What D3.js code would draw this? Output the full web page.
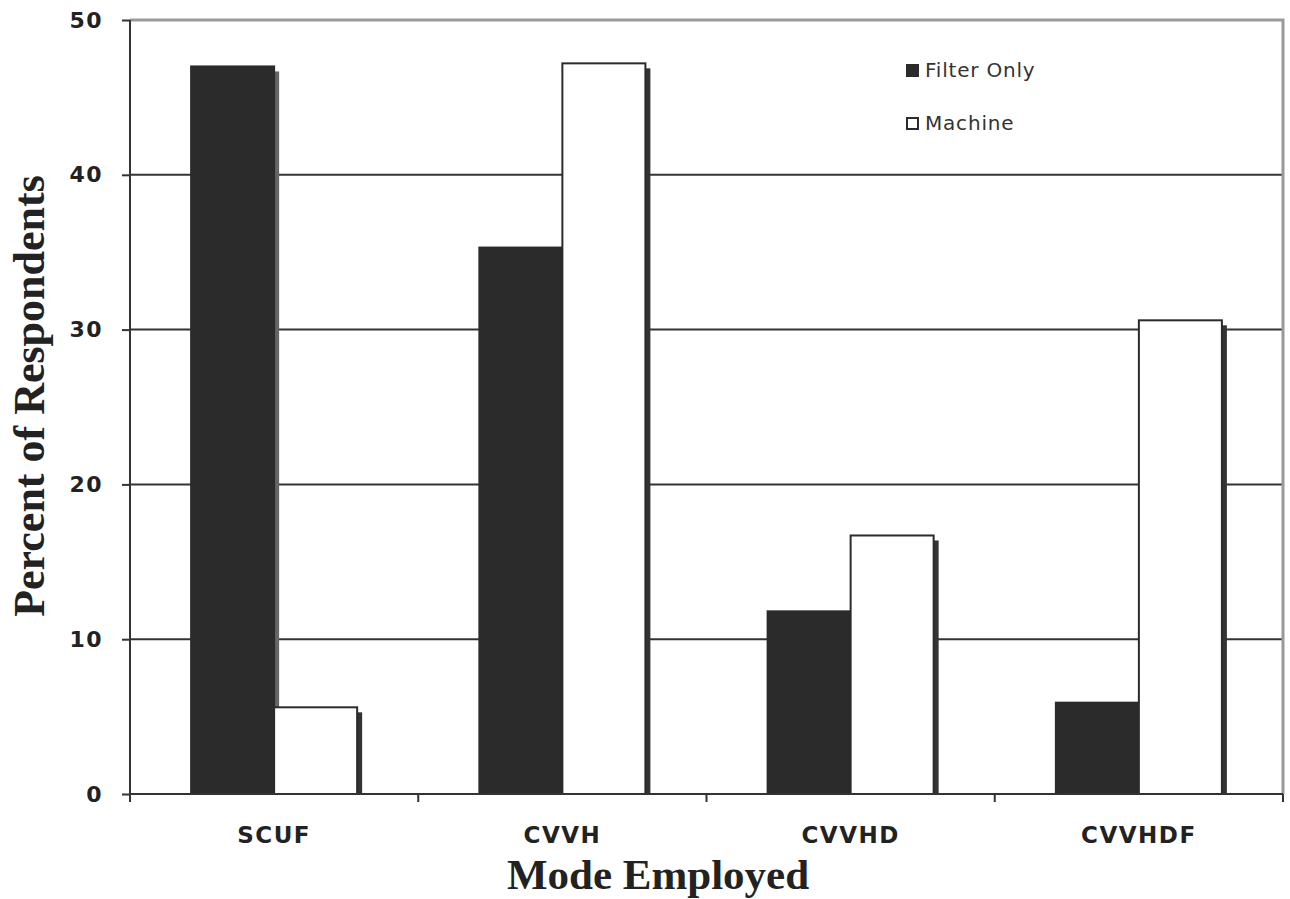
<!DOCTYPE html>
<html>
<head>
<meta charset="utf-8">
<style>
    body { margin: 0; background: white; }
    svg { display: block; }
    .y .domain, .x .domain { display: none; }
    .y .tick text { font-family: 'DejaVu Sans', Verdana, sans-serif; font-weight: bold; font-size: 22px; letter-spacing: 1.5px; fill: #222; }
    .x .tick text { font-family: 'DejaVu Sans', Verdana, sans-serif; font-weight: bold; font-size: 23px; letter-spacing: 1.5px; fill: #222; }
    .tick line { stroke: #333; stroke-width: 2px; }
</style>
</head>
<body>
<svg width="1290" height="899"></svg>
<script src="https://d3js.org/d3.v7.min.js"></script>
<script>
    // data
    let categories = ["SCUF", "CVVH", "CVVHD", "CVVHDF"];
    let seriesNames = ["Filter Only", "Machine"];
    let filterOnly = [47.0, 35.3, 11.8, 5.9];
    let machine = [5.6, 47.2, 16.7, 30.6];
    let yTicks = [0, 10, 20, 30, 40, 50];

    let margin = { top: 20, right: 7, bottom: 105, left: 130 };
    let width = 1290, height = 899;

    let svg = d3.select("svg");

    let x0 = d3.scaleBand()
        .domain(categories)
        .range([margin.left, width - margin.right])
        .paddingInner(0.424)
        .paddingOuter(0.212);

    let x1 = d3.scaleBand()
        .domain(seriesNames)
        .range([0, x0.bandwidth()]);

    let y = d3.scaleLinear()
        .domain([0, 50])
        .range([height - margin.bottom, margin.top]);

    // grid lines
    svg.append("g")
        .selectAll("line")
        .data(yTicks.filter(d => d > 0 && d < 50))
        .join("line")
        .attr("x1", margin.left)
        .attr("x2", width - margin.right)
        .attr("y1", d => y(d))
        .attr("y2", d => y(d))
        .style("stroke", "#333")
        .style("stroke-width", 2);

    // top and right border (gray)
    svg.append("path")
        .attr("d", `M${margin.left},${y(50)}H${width - margin.right}V${y(0)}`)
        .style("fill", "none")
        .style("stroke", "#999")
        .style("stroke-width", 3);

    let rows = categories.map((c, i) => ({ cat: c, values: [filterOnly[i], machine[i]] }));

    let groups = svg.append("g")
        .selectAll("g")
        .data(rows)
        .join("g")
        .attr("transform", d => `translate(${x0(d.cat)},0)`);

    let cells = groups.selectAll("g")
        .data(d => d.values.map((v, k) => ({ name: seriesNames[k], value: v })))
        .join("g");

    // shadows
    cells.append("rect")
        .attr("x", d => x1(d.name) + 5)
        .attr("y", d => y(d.value) + 5)
        .attr("width", x1.bandwidth())
        .attr("height", d => y(0) - y(d.value) - 5)
        .style("fill", d => d.name === "Machine" ? "#333" : "#666");

    cells.append("rect")
        .attr("x", d => x1(d.name))
        .attr("y", d => y(d.value))
        .attr("width", x1.bandwidth())
        .attr("height", d => y(0) - y(d.value))
        .style("fill", d => d.name === "Machine" ? "white" : "#2b2b2b")
        .style("stroke", "#2b2b2b")
        .style("stroke-width", 2);

    // axes
    svg.append("g")
        .attr("class", "y axis")
        .attr("transform", `translate(${margin.left},0)`)
        .call(d3.axisLeft(y).tickValues(yTicks).tickSize(8).tickPadding(19));

    svg.append("line")
        .attr("x1", margin.left).attr("x2", margin.left)
        .attr("y1", y(50)).attr("y2", y(0))
        .style("stroke", "#333").style("stroke-width", 2);

    svg.append("line")
        .attr("x1", margin.left).attr("x2", width - margin.right)
        .attr("y1", y(0)).attr("y2", y(0))
        .style("stroke", "#333").style("stroke-width", 2);

    // x tick marks on category boundaries
    let step = x0.step();
    let bounds = d3.range(categories.length + 1).map(i => margin.left + i * step);
    svg.append("g")
        .selectAll("line")
        .data(bounds)
        .join("line")
        .attr("x1", d => d).attr("x2", d => d)
        .attr("y1", y(0)).attr("y2", y(0) + 8)
        .style("stroke", "#333").style("stroke-width", 2);

    svg.append("g")
        .attr("class", "x axis")
        .attr("transform", `translate(0,${y(0)})`)
        .call(d3.axisBottom(x0).tickSize(0).tickPadding(33))
        .selectAll(".tick line").remove();

    // axis titles
    svg.append("text").text("Mode Employed")
        .attr("x", 658)
        .attr("y", 889)
        .attr("text-anchor", "middle")
        .attr("font-family", "'Liberation Serif', 'Times New Roman', serif")
        .attr("font-weight", "bold")
        .attr("font-size", "43px")
        .attr("fill", "#222");

    svg.append("text").text("Percent of Respondents")
        .attr("transform", `translate(44,396) rotate(-90)`)
        .attr("text-anchor", "middle")
        .attr("font-family", "'Liberation Serif', 'Times New Roman', serif")
        .attr("font-weight", "bold")
        .attr("font-size", "44px")
        .attr("fill", "#222");

    // legend
    let legend = svg.append("g")
        .selectAll("g")
        .data(seriesNames)
        .join("g")
        .attr("transform", (d, i) => `translate(907,${65 + i * 53})`);

    legend.append("rect")
        .attr("width", 11).attr("height", 11)
        .style("fill", d => d === "Machine" ? "white" : "#2b2b2b")
        .style("stroke", "#2b2b2b")
        .style("stroke-width", 2);

    legend.append("text").text(d => d)
        .attr("x", 18)
        .attr("y", 12)
        .attr("font-family", "'DejaVu Sans', Verdana, sans-serif")
        .attr("font-size", "20px")
        .attr("letter-spacing", "0.8px")
        .attr("fill", "#333");
</script>
</body>
</html>
